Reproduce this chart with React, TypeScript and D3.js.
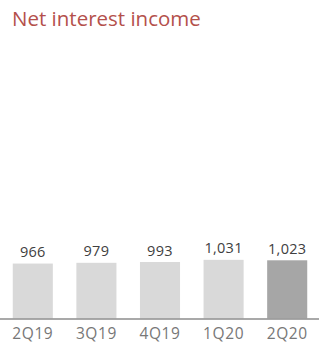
import React from "react";
import * as d3 from "d3";

const categories = ["2Q19", "3Q19", "4Q19", "1Q20", "2Q20"];
const values = [966, 979, 993, 1031, 1023];
const valueLabels = ["966", "979", "993", "1,031", "1,023"];
const title = "Net interest income";

export default function App() {
  const W = 319;
  const H = 343;
  const x = d3.scaleBand<string>().domain(categories).range([1, 319]).paddingInner(0.37).paddingOuter(0.185);
  const y = d3.scaleLinear().domain([0, 1023]).range([318.5, 260.3]);
  const font = "'Open Sans', sans-serif";
  return (
    <svg width={W} height={H} style={{ position: "absolute", left: 0, top: 0, background: "#fff" }}>
      <text x={12} y={26} fontFamily={font} fontSize={20.5} fill="#b4504b">{title}</text>
      {values.map((v, i) => {
        const c = categories[i];
        const bx = x(c)!;
        return (
          <g key={c}>
            <rect x={bx} y={y(v)} width={x.bandwidth()} height={y(0) - y(v)} fill={i === values.length - 1 ? "#a6a6a6" : "#d9d9d9"} />
            <text x={bx + x.bandwidth() / 2} y={y(v) - 6.5} textAnchor="middle" fontFamily={font} fontSize={14.5} letterSpacing={0.3} fill="#404040">{valueLabels[i]}</text>
            <text x={bx + x.bandwidth() / 2} y={339} textAnchor="middle" fontFamily={font} fontSize={15.5} letterSpacing={0.6} fill="#777">{c}</text>
          </g>
        );
      })}
      <line x1={0} x2={W} y1={319} y2={319} stroke="#8c8c8c" strokeWidth={1.5} />
    </svg>
  );
}
